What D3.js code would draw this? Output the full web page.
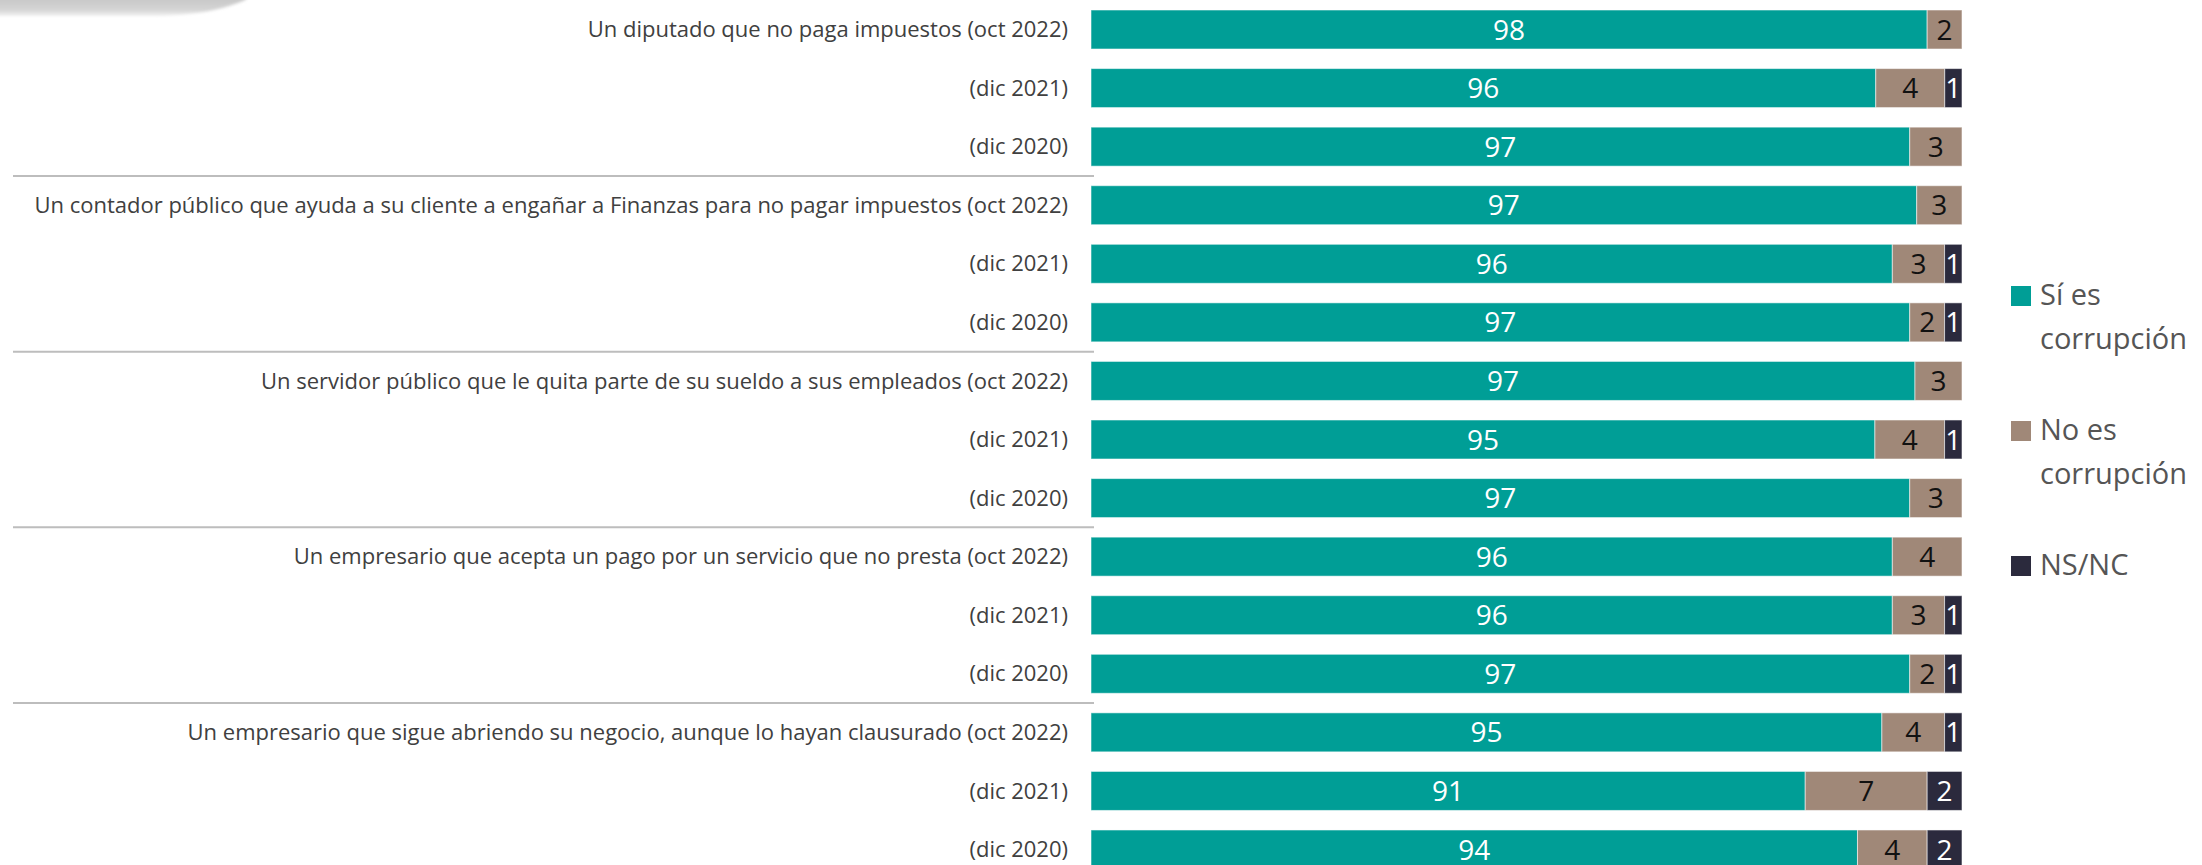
<!DOCTYPE html>
<html>
<head>
<meta charset="utf-8">
<script src="https://cdn.jsdelivr.net/npm/d3@7"></script>
<style>
  body { margin: 0; background: #fff; }
  svg { display: block; }
</style>
</head>
<body>
<div id="chart"></div>
<script>
// Row labels (one row per bar)
var rowLabels = [
  "Un diputado que no paga impuestos (oct 2022)", "(dic 2021)", "(dic 2020)",
  "Un contador público que ayuda a su cliente a engañar a Finanzas para no pagar impuestos (oct 2022)", "(dic 2021)", "(dic 2020)",
  "Un servidor público que le quita parte de su sueldo a sus empleados (oct 2022)", "(dic 2021)", "(dic 2020)",
  "Un empresario que acepta un pago por un servicio que no presta (oct 2022)", "(dic 2021)", "(dic 2020)",
  "Un empresario que sigue abriendo su negocio, aunque lo hayan clausurado (oct 2022)", "(dic 2021)", "(dic 2020)"
];

// Series values (percent)
var siEs   = [98, 96, 97, 97.4, 96, 97, 97.3, 95, 97, 96, 96, 97, 95.4, 91, 94];
var noEs   = [2, 4, 3, 2.6, 3, 2, 2.7, 4, 3, 4, 3, 2, 3.6, 7, 4];
var nsNc   = [0, 1, 0, 0, 1, 1, 0, 1, 0, 0, 1, 1, 1, 2, 2];

var seriesKeys = ["si", "no", "ns"];
var legendLines = [["Sí es", "corrupción"], ["No es", "corrupción"], ["NS/NC"]];
var colors = { si: "#009e96", no: "#a08878", ns: "#2b2a3d" };
var textColors = { si: "#ffffff", no: "#111111", ns: "#ffffff" };

var groupSize = 3;

var svgWidth = 2202;
var svgHeight = 865;

var table = rowLabels.map(function(l, i) {
  return { label: l, i: i, si: siEs[i], no: noEs[i], ns: nsNc[i] };
});

var svg = d3.select("#chart")
  .append("svg")
  .attr("width", svgWidth)
  .attr("height", svgHeight);

// decorative grey swoosh top-left
var defs = svg.append("defs");
var grad = defs.append("linearGradient")
  .attr("id", "swoosh")
  .attr("x1", 0).attr("y1", 0).attr("x2", 0).attr("y2", 1);
grad.append("stop").attr("offset", "0%").attr("stop-color", "#c4c4c4");
grad.append("stop").attr("offset", "70%").attr("stop-color", "#d4d4d4");
grad.append("stop").attr("offset", "100%").attr("stop-color", "#f2f2f2");
defs.append("filter").attr("id", "soft")
  .append("feGaussianBlur").attr("stdDeviation", 1.5);
svg.append("path")
  .attr("d", "M-5,-5 L250,-5 L245,0 C225,9 195,16 150,16 L-5,16 Z")
  .attr("fill", "url(#swoosh)")
  .attr("filter", "url(#soft)");

var xScale = d3.scaleLinear().domain([0.5, 1]).range([1091, 1962]);
var yScale = d3.scaleBand()
  .domain(d3.range(rowLabels.length))
  .range([10, 869])
  .paddingInner(0.334)
  .paddingOuter(0);

var stacked = d3.stack()
  .keys(seriesKeys)
  .offset(d3.stackOffsetExpand)(table);

// separators between groups
var gap = yScale.step() * yScale.paddingInner();
d3.range(groupSize, rowLabels.length, groupSize).forEach(function(r) {
  var yy = yScale(r) - gap / 2;
  svg.append("line")
    .attr("x1", 13).attr("x2", 1094)
    .attr("y1", yy).attr("y2", yy)
    .attr("stroke", "#bdbdbd")
    .attr("stroke-width", 2);
});

// row labels
svg.append("g").selectAll("text")
  .data(table).enter().append("text")
  .attr("x", 1068)
  .attr("y", function(d) { return yScale(d.i) + yScale.bandwidth() / 2; })
  .attr("dy", "0.35em")
  .attr("text-anchor", "end")
  .attr("font-family", "'Open Sans', sans-serif")
  .attr("font-size", 22)
  .attr("fill", "#404040")
  .text(function(d) { return d.label; });

// bars
var layers = svg.append("g").selectAll("g")
  .data(stacked).enter().append("g")
  .attr("fill", function(s) { return colors[s.key]; });

layers.selectAll("rect")
  .data(function(s) { return s.filter(function(p) { return p.data[s.key] > 0; }); })
  .enter().append("rect")
  .attr("x", function(p) { return xScale(Math.max(p[0], 0.5)); })
  .attr("y", function(p) { return yScale(p.data.i); })
  .attr("width", function(p) { return xScale(p[1]) - xScale(Math.max(p[0], 0.5)); })
  .attr("height", yScale.bandwidth())
  .attr("stroke", "#ffffff")
  .attr("stroke-opacity", 0.55)
  .attr("stroke-width", 1);

// value labels
var fmt = d3.format(".0f");
stacked.forEach(function(s) {
  svg.append("g").selectAll("text")
    .data(s.filter(function(p) { return p.data[s.key] > 0; }))
    .enter().append("text")
    .attr("x", function(p) { return (xScale(Math.max(p[0], 0.5)) + xScale(p[1])) / 2; })
    .attr("y", function(p) { return yScale(p.data.i) + yScale.bandwidth() / 2; })
    .attr("dy", "0.36em")
    .attr("text-anchor", "middle")
    .attr("font-family", "'Open Sans', sans-serif")
    .attr("font-size", 28)
    .attr("fill", textColors[s.key])
    .text(function(p) { return fmt(p.data[s.key]); });
});

// legend
var legend = svg.append("g").attr("transform", "translate(2011, 286)");
seriesKeys.forEach(function(k, i) {
  var item = legend.append("g").attr("transform", "translate(0," + (i * 135) + ")");
  item.append("rect")
    .attr("width", 20).attr("height", 20)
    .attr("fill", colors[k]);
  item.selectAll("text")
    .data(legendLines[i]).enter().append("text")
    .attr("x", 29)
    .attr("y", function(d, j) { return 19 + j * 44; })
    .attr("font-family", "'Open Sans', sans-serif")
    .attr("font-size", 29)
    .attr("fill", "#555555")
    .text(function(d) { return d; });
});
</script>
</body>
</html>
